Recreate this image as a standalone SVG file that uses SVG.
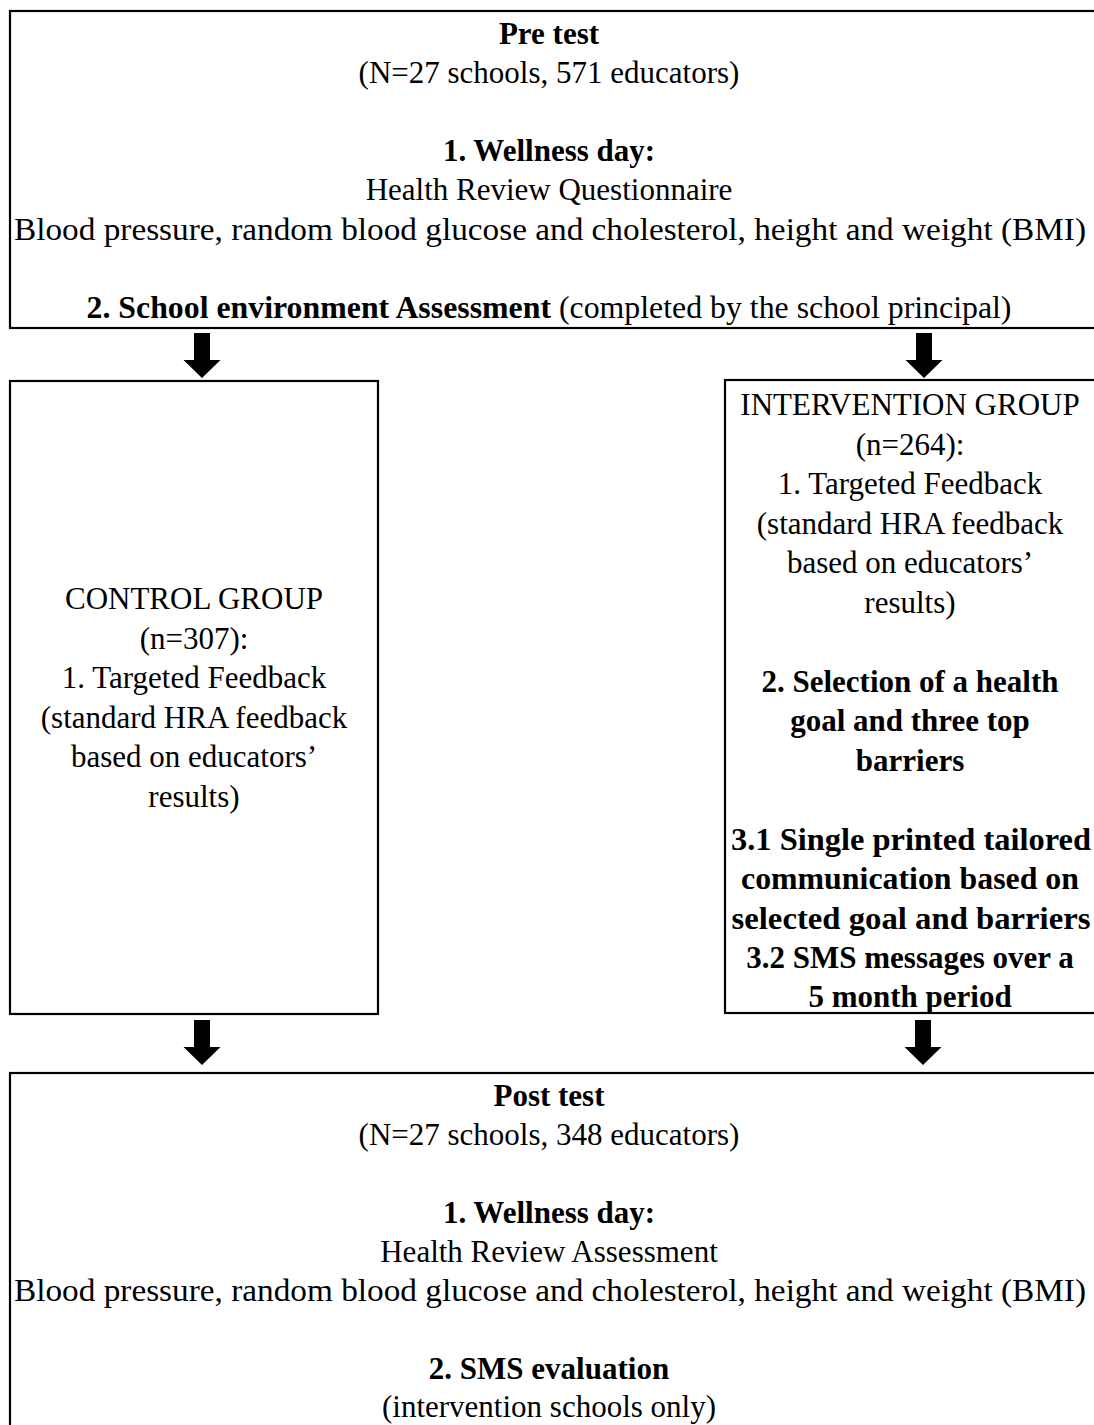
<svg xmlns="http://www.w3.org/2000/svg" width="1094" height="1425" viewBox="0 0 1094 1425">
<style>
.box{fill:#fff;stroke:#000;stroke-width:2.2}
text{font-family:"Liberation Serif","Times New Roman",serif;font-size:31px;fill:#000;text-anchor:middle}
.b{font-weight:bold}
.arrow{fill:#000;stroke:none}
</style>
<defs>
<path id="arr" d="M-8,0 H8 V27 H18.5 L0,45 L-18.5,27 H-8 Z"/>
</defs>
<rect width="1094" height="1425" fill="#fff"/>
<g id="pretest">
<rect class="box" x="10" y="11" width="1100" height="317"/>
<text x="549" y="44" class="b">Pre test</text>
<text x="549" y="83">(N=27 schools, 571 educators)</text>
<text x="549" y="161" class="b">1. Wellness day:</text>
<text x="549" y="200">Health Review Questionnaire</text>
<text x="550" y="239.5" textLength="1072" lengthAdjust="spacingAndGlyphs">Blood pressure, random blood glucose and cholesterol, height and weight (BMI)</text>
<text x="549" y="318" textLength="925" lengthAdjust="spacingAndGlyphs"><tspan class="b">2. School environment Assessment</tspan> (completed by the school principal)</text>
</g>
<g id="control">
<rect class="box" x="10" y="381" width="368" height="633"/>
<text x="194" y="609">CONTROL GROUP</text>
<text x="194" y="648.5">(n=307):</text>
<text x="194" y="688">1. Targeted Feedback</text>
<text x="194" y="727.5">(standard HRA feedback</text>
<text x="194" y="767">based on educators’</text>
<text x="194" y="806.5">results)</text>
</g>
<g id="intervention">
<rect class="box" x="725" y="380" width="400" height="633"/>
<text x="910" y="415">INTERVENTION GROUP</text>
<text x="910" y="454.5">(n=264):</text>
<text x="910" y="494">1. Targeted Feedback</text>
<text x="910" y="533.5">(standard HRA feedback</text>
<text x="910" y="573">based on educators’</text>
<text x="910" y="612.5">results)</text>
<text x="910" y="691.5" class="b">2. Selection of a health</text>
<text x="910" y="731" class="b">goal and three top</text>
<text x="910" y="770.5" class="b">barriers</text>
<text x="911" y="849.5" class="b" textLength="360" lengthAdjust="spacingAndGlyphs">3.1 Single printed tailored</text>
<text x="910" y="889" class="b" textLength="338" lengthAdjust="spacingAndGlyphs">communication based on</text>
<text x="911" y="928.5" class="b" textLength="359" lengthAdjust="spacingAndGlyphs">selected goal and barriers</text>
<text x="910" y="968" class="b">3.2 SMS messages over a</text>
<text x="910" y="1007" class="b">5 month period</text>
</g>
<g id="posttest">
<rect class="box" x="10" y="1073" width="1100" height="400"/>
<text x="549" y="1106" class="b">Post test</text>
<text x="549" y="1145">(N=27 schools, 348 educators)</text>
<text x="549" y="1223" class="b">1. Wellness day:</text>
<text x="549" y="1262">Health Review Assessment</text>
<text x="550" y="1301" textLength="1072" lengthAdjust="spacingAndGlyphs">Blood pressure, random blood glucose and cholesterol, height and weight (BMI)</text>
<text x="549" y="1379" class="b">2. SMS evaluation</text>
<text x="549" y="1417">(intervention schools only)</text>
</g>
<g id="connectors">
<use href="#arr" class="arrow" x="202" y="333"/>
<use href="#arr" class="arrow" x="924" y="333"/>
<use href="#arr" class="arrow" x="202" y="1020"/>
<use href="#arr" class="arrow" x="923" y="1020"/>
</g>
</svg>
